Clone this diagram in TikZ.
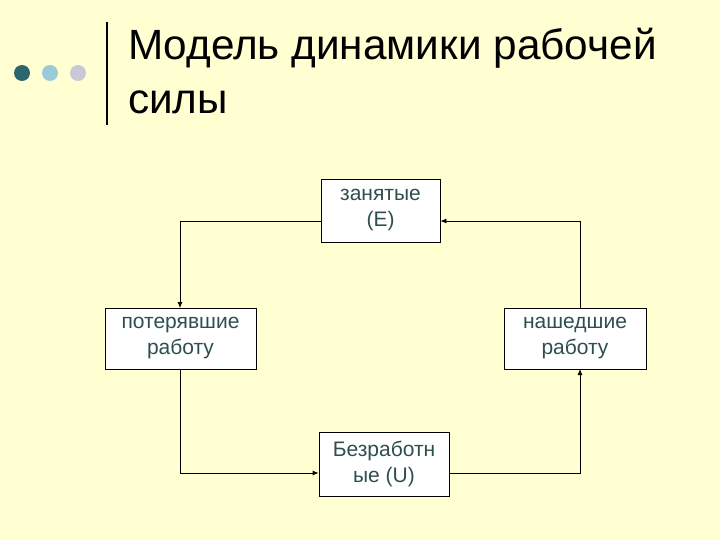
\documentclass[tikz,border=0pt]{standalone}
\usepackage{fontspec}
\setmainfont{Liberation Sans}
\usetikzlibrary{arrows.meta}
\definecolor{bg}{HTML}{FFFFD2}
\definecolor{txt}{HTML}{2F4F4F}
\begin{document}
\begin{tikzpicture}[x=1pt,y=-1pt,
 box/.style={draw=black,fill=white,line width=0.8pt,text=txt,align=center,font=\fontsize{21}{26}\selectfont,inner sep=0pt},
 con/.style={draw=black,line width=0.8pt},
 arr/.style={con,-{Latex[length=6pt,width=5pt]}}]
\fill[bg] (0,0) rectangle (720,540);
\useasboundingbox (0,0) rectangle (720,540);
\fill[fill={rgb,255:red,46;green,102;blue,112}] (22,73) circle (8);
\fill[fill={rgb,255:red,153;green,204;blue,214}] (50,73) circle (8);
\fill[fill={rgb,255:red,200;green,200;blue,216}] (78,73) circle (8);
\draw[line width=2pt] (107,22) -- (107,125);
\node[anchor=north west,align=left,inner sep=0pt,font=\fontsize{42.3}{54}\selectfont] (title) at (128,28) {Модель динамики рабочей\\силы};
\node[box,minimum width=119pt,minimum height=63pt] (E) at (380.5,210.5) {занятые\\(E)};
\node[box,minimum width=151pt,minimum height=61pt] (L) at (180.5,338.5) {потерявшие\\работу};
\node[box,minimum width=142pt,minimum height=61pt] (F) at (575,338.5) {нашедшие\\работу};
\node[box,minimum width=130pt,minimum height=64pt] (U) at (384,464) {Безработн\\ые (U)};
\coordinate (e1) at (E.west |- 0,221);
\coordinate (e2) at (E.east |- 0,221);
\coordinate (l1) at (180,308);
\coordinate (l2) at (180,369);
\coordinate (f1) at (580,308);
\coordinate (f2) at (580,369);
\coordinate (u1) at (U.west |- 0,473);
\coordinate (u2) at (U.east |- 0,473);
\draw[arr] (e1) -- (180,221) -- (l1);
\draw[arr] (l2) -- (180,473) -- (u1);
\draw[arr] (u2) -- (580,473) -- (f2);
\draw[arr] (f1) -- (580,221) -- (e2);
\end{tikzpicture}
\end{document}
